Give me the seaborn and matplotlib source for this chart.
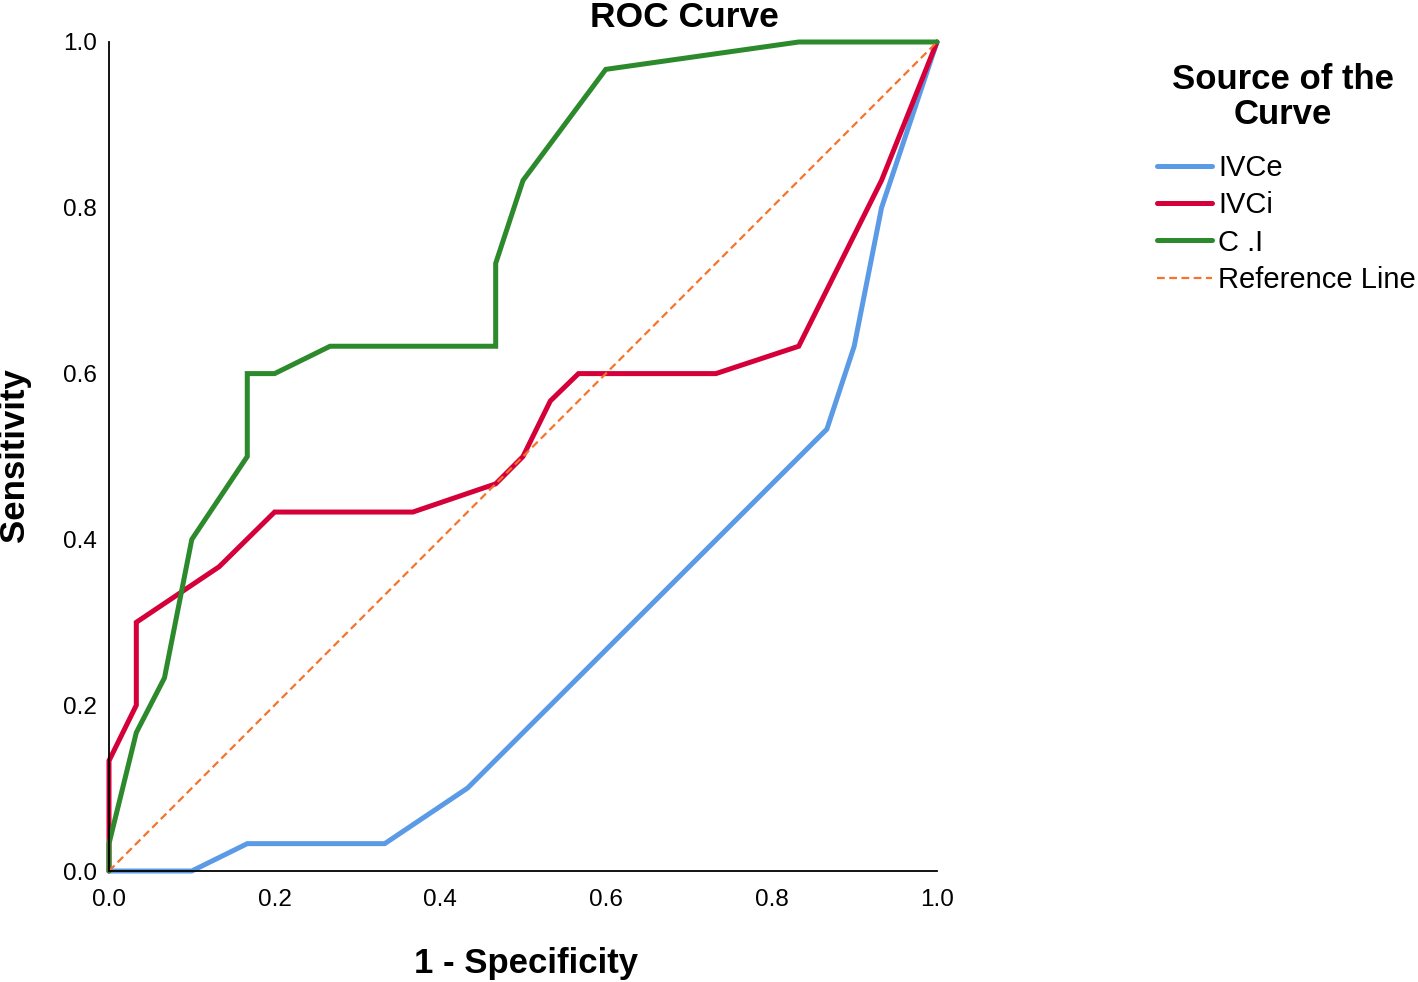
import matplotlib
matplotlib.use("Agg")
import matplotlib.pyplot as plt
import pandas as pd
import seaborn as sns

# ROC points (1 - specificity, sensitivity)
ivce_fpr = [0.0, 0.1, 0.167, 0.333, 0.433, 0.867, 0.9, 0.933, 1.0]
ivce_tpr = [0.0, 0.0, 0.033, 0.033, 0.1, 0.533, 0.633, 0.8, 1.0]

ivci_fpr = [0.0, 0.0, 0.033, 0.033, 0.133, 0.2, 0.367, 0.467, 0.5, 0.533, 0.567, 0.733, 0.833, 0.933, 1.0]
ivci_tpr = [0.0, 0.133, 0.2, 0.3, 0.367, 0.433, 0.433, 0.467, 0.5, 0.567, 0.6, 0.6, 0.633, 0.833, 1.0]

ci_fpr = [0.0, 0.0, 0.033, 0.067, 0.1, 0.167, 0.167, 0.2, 0.267, 0.467, 0.467, 0.5, 0.6, 0.833, 1.0]
ci_tpr = [0.0, 0.033, 0.167, 0.233, 0.4, 0.5, 0.6, 0.6, 0.633, 0.633, 0.733, 0.833, 0.967, 1.0, 1.0]

ref_fpr = [0.0, 1.0]
ref_tpr = [0.0, 1.0]

sources = ["IVCe", "IVCi", "C .I", "Reference Line"]
ticks = [0.0, 0.2, 0.4, 0.6, 0.8, 1.0]
tick_labels = ["0.0", "0.2", "0.4", "0.6", "0.8", "1.0"]

frames = []
for name, fx, fy in zip(sources, [ivce_fpr, ivci_fpr, ci_fpr, ref_fpr], [ivce_tpr, ivci_tpr, ci_tpr, ref_tpr]):
    frames.append(pd.DataFrame({"fpr": fx, "tpr": fy, "source": name}))
df = pd.concat(frames, ignore_index=True)

sns.set_theme(style="white")
plt.rcParams["font.family"] = ["Liberation Sans", "DejaVu Sans"]
plt.rcParams["text.color"] = "black"

fig = plt.figure(figsize=(14.18, 9.82), dpi=100)
ax = fig.add_axes([109 / 1418, 1 - 871 / 982, 828 / 1418, 829 / 982])

palette = {"IVCe": "#5b9be6", "IVCi": "#d5003a", "C .I": "#2c8a2c", "Reference Line": "#f7732b"}
sizes = {"IVCe": 3.6, "IVCi": 3.6, "C .I": 3.6, "Reference Line": 1.6}
dashes = {"IVCe": "", "IVCi": "", "C .I": "", "Reference Line": (3.5, 2)}

sns.lineplot(data=df, x="fpr", y="tpr", hue="source", size="source", style="source",
             hue_order=sources, size_order=sources, style_order=sources,
             palette=palette, sizes=sizes, dashes=dashes,
             estimator=None, sort=False, ax=ax)
for line in ax.lines:
    line.set_clip_on(False)
    line.set_solid_joinstyle("miter")

ax.set_xlim(0, 1)
ax.set_ylim(0, 1)
ax.set_xticks(ticks)
ax.set_xticklabels(tick_labels)
ax.set_yticks(ticks)
ax.set_yticklabels(tick_labels)
ax.tick_params(axis="both", length=0, labelsize=17.5, colors="black")
ax.tick_params(axis="x", pad=13)
ax.tick_params(axis="y", pad=9)
ax.set_xlabel("")
ax.set_ylabel("")
for side in ["top", "right"]:
    ax.spines[side].set_visible(False)
for side in ["left", "bottom"]:
    ax.spines[side].set_color("black")
    ax.spines[side].set_linewidth(1.3)

fig.text(684 / 1418, 1 - 27 / 982, "ROC Curve", fontsize=25.5, fontweight="bold",
         ha="center", va="baseline")
fig.text(526 / 1418, 1 - 963 / 982, "1 - Specificity", fontsize=25, fontweight="bold",
         ha="center", va="center")
fig.text(15 / 1418, 1 - 455 / 982, "Sensitivity", fontsize=25, fontweight="bold",
         ha="center", va="center", rotation=90)

# legend title drawn on its own so its gap to the entries matches
fig.text(1283 / 1418, 1 - 97 / 982, "Source of the\nCurve", fontsize=25, fontweight="bold",
         ha="center", va="center", multialignment="center", linespacing=1.1)

sns.move_legend(ax, "upper left", bbox_to_anchor=(1157 / 1418, 1 - 154 / 982),
                bbox_transform=fig.transFigure, title=None,
                frameon=False, fontsize=21,
                handlelength=1.9, handletextpad=0.2, labelspacing=0.32,
                borderpad=0, borderaxespad=0)

fig.savefig("out.png", dpi=100)
